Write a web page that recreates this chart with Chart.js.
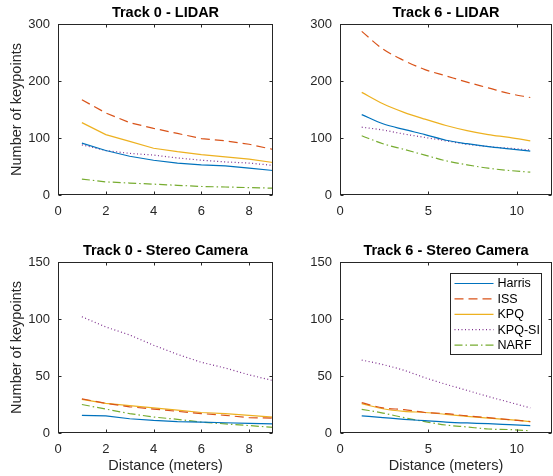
<!DOCTYPE html>
<html><head><meta charset="utf-8">
<script src="https://cdn.jsdelivr.net/npm/chart.js@4/dist/chart.umd.min.js"></script>
<style>
html,body{margin:0;padding:0;background:#fff;width:553px;height:476px;overflow:hidden}
canvas{position:absolute;display:block}
</style></head><body>
<canvas id="c1" width="276" height="238" style="left:0;top:0"></canvas>
<canvas id="c2" width="271" height="238" style="left:282px;top:0"></canvas>
<canvas id="c3" width="276" height="238" style="left:0;top:238px"></canvas>
<canvas id="c4" width="271" height="238" style="left:282px;top:238px"></canvas>
<script>
// ---- data ----
const seriesNames = ['Harris', 'ISS', 'KPQ', 'KPQ-SI', 'NARF'];
const track0Dist = [1, 2, 3, 4, 5, 6, 7, 8, 9];
const track6Dist = [1.23, 2.43, 3.62, 4.81, 6.0, 7.19, 8.39, 9.58, 10.77];

const t0LidarHarris = [91, 78, 68, 61, 56, 53, 51, 47, 43];
const t0LidarISS    = [167, 144, 127, 117, 108, 99, 95, 89, 80];
const t0LidarKPQ    = [127, 106, 94, 82, 76, 71, 67, 63, 57];
const t0LidarKPQSI  = [88, 78, 73, 70, 65, 61, 58, 56, 52];
const t0LidarNARF   = [28, 23, 21, 19, 17, 15, 14, 13, 12];

const t6LidarHarris = [141, 125, 115, 106, 96, 90, 85, 81, 77];
const t6LidarISS    = [287, 256, 236, 220, 209, 198, 188, 178, 171];
const t6LidarKPQ    = [180, 160, 145, 133, 122, 113, 106, 101, 95];
const t6LidarKPQSI  = [119, 114, 107, 101, 95, 89, 85, 82, 79];
const t6LidarNARF   = [104, 90, 80, 70, 60, 53, 47, 43, 40];

const t0CamHarris = [15.5, 15, 12.5, 11, 10, 9.5, 9, 8.5, 8];
const t0CamISS    = [30, 26, 23, 21, 19, 17, 15.5, 13.5, 13];
const t0CamKPQ    = [29.5, 26, 24, 22, 20, 18, 17, 15.5, 14];
const t0CamKPQSI  = [102, 93, 86, 77, 69, 62, 57, 51, 46];
const t0CamNARF   = [25, 21, 17, 14, 12, 9.5, 8, 6.5, 5];

const t6CamHarris = [15, 13.5, 12, 10.8, 9.6, 8.8, 8.2, 7.3, 6.4];
const t6CamISS    = [26.6, 22, 20.5, 18, 17, 15, 13.5, 11.7, 10];
const t6CamKPQ    = [25.7, 21.3, 19, 18, 16.4, 14.6, 13, 11.7, 10];
const t6CamKPQSI  = [64, 60, 55, 48.5, 42.7, 37.4, 32, 27, 22];
const t6CamNARF   = [20.8, 17.5, 13.5, 10, 7, 5.3, 3.5, 3, 2];

const lidarYTicks = [0, 100, 200, 300];
const camYTicks = [0, 50, 100, 150];
const track0XTicks = [0, 2, 4, 6, 8];
const track6XTicks = [0, 5, 10];

// ---- styles ----
const FONT = "'Liberation Sans', Arial, Helvetica, sans-serif";
const AXC = '#262626';
const styles = [
  {c: '#0072BD', dash: []},
  {c: '#D95319', dash: [9, 5]},
  {c: '#EDB120', dash: []},
  {c: '#7E2F8E', dash: [1, 2.5]},
  {c: '#77AC30', dash: [8, 3, 1.5, 3]}
];

function mkDatasets(xs, arrs, smooth) {
  return arrs.map((arr, i) => ({
    label: seriesNames[i],
    data: arr.map((v, k) => ({x: xs[k], y: v})),
    borderColor: styles[i].c,
    backgroundColor: styles[i].c,
    borderDash: styles[i].dash,
    borderWidth: 1.2,
    pointRadius: 0,
    fill: false,
    tension: 0,
    cubicInterpolationMode: smooth ? 'monotone' : 'default'
  }));
}

const boxPlugin = {
  id: 'matlabBox',
  afterDatasetsDraw(chart) {
    const {ctx, chartArea: a, scales: {x, y}} = chart;
    const L = Math.round(a.left) + 0.5, R = Math.round(a.right) - 0.5;
    const T = Math.round(a.top) + 0.5, B = Math.round(a.bottom) - 0.5;
    ctx.save();
    ctx.strokeStyle = AXC; ctx.lineWidth = 1; ctx.setLineDash([]);
    ctx.strokeRect(L, T, R - L, B - T);
    ctx.beginPath();
    const tl = 3;
    x.ticks.forEach(t => {
      const p = Math.round(x.getPixelForValue(t.value)) + 0.5;
      ctx.moveTo(p, B); ctx.lineTo(p, B - tl);
      ctx.moveTo(p, T); ctx.lineTo(p, T + tl);
    });
    y.ticks.forEach(t => {
      const p = Math.round(y.getPixelForValue(t.value)) + 0.5;
      ctx.moveTo(L, p); ctx.lineTo(L + tl, p);
      ctx.moveTo(R, p); ctx.lineTo(R - tl, p);
    });
    ctx.stroke();
    ctx.restore();
  }
};

const legendPlugin = {
  id: 'boxLegend',
  afterDraw(chart, args, opts) {
    if (!opts || !opts.show) return;
    const {ctx, chartArea: a} = chart;
    const w = 91, h = 81;
    const left = Math.round(a.right - 11 - w) + 0.5, top = Math.round(a.top + 11) + 0.5;
    ctx.save();
    ctx.fillStyle = '#fff';
    ctx.fillRect(left, top, w, h);
    ctx.strokeStyle = AXC; ctx.lineWidth = 1; ctx.setLineDash([]);
    ctx.strokeRect(left, top, w, h);
    ctx.font = '12.5px ' + FONT;
    ctx.textBaseline = 'middle';
    ctx.textAlign = 'left';
    chart.data.datasets.forEach((ds, i) => {
      const yy = top + 10 + i * 15.4;
      ctx.beginPath();
      ctx.strokeStyle = ds.borderColor;
      ctx.lineWidth = 1.2;
      ctx.setLineDash(ds.borderDash);
      ctx.moveTo(left + 4, yy); ctx.lineTo(left + 43, yy);
      ctx.stroke();
      ctx.fillStyle = '#000';
      ctx.fillText(ds.label, left + 47, yy + 0.5);
    });
    ctx.restore();
  }
};

function makeChart(id, opts) {
  const xTicksArr = opts.xTicks, yTicksArr = opts.yTicks;
  return new Chart(document.getElementById(id), {
    type: 'line',
    data: {datasets: mkDatasets(opts.xs, opts.data, opts.smooth)},
    plugins: [boxPlugin, legendPlugin],
    options: {
      responsive: false,
      animation: false,
      events: [],
      layout: {padding: {left: 0, right: opts.padRight, top: 0, bottom: 0}},
      plugins: {
        legend: {display: false},
        tooltip: {enabled: false},
        title: {
          display: true, text: opts.title, color: '#000', fullSize: false,
          font: {family: FONT, size: 14.5, weight: 'bold', lineHeight: 1.2},
          padding: {top: 4, bottom: 2.6}
        },
        boxLegend: {show: !!opts.legend}
      },
      scales: {
        x: {
          type: 'linear', min: xTicksArr[0], max: opts.xMax,
          grid: {display: false, drawTicks: false},
          border: {display: false},
          afterBuildTicks(s) { s.ticks = xTicksArr.map(v => ({value: v})); },
          afterFit(s) { s.height = 43; },
          ticks: {color: AXC, font: {family: FONT, size: 13}, padding: 9, maxRotation: 0, autoSkip: false, includeBounds: false},
          title: {display: !!opts.xTitle, text: opts.xTitle || '', color: AXC,
                  font: {family: FONT, size: 14.5, lineHeight: 1.2}, padding: {top: 0, bottom: 1}}
        },
        y: {
          type: 'linear', min: yTicksArr[0], max: yTicksArr[yTicksArr.length - 1],
          grid: {display: false, drawTicks: false},
          border: {display: false},
          afterBuildTicks(s) { s.ticks = yTicksArr.map(v => ({value: v})); },
          afterFit(s) { s.width = 58; },
          ticks: {color: AXC, font: {family: FONT, size: 13}, padding: 8, autoSkip: false},
          title: {display: !!opts.yTitle, text: opts.yTitle || '', color: AXC,
                  font: {family: FONT, size: 14.5, lineHeight: 1.2}, padding: {top: 8, bottom: 0}}
        }
      }
    }
  });
}

makeChart('c1', {title: 'Track 0 - LIDAR', xs: track0Dist, xMax: 9, xTicks: track0XTicks, yTicks: lidarYTicks,
  data: [t0LidarHarris, t0LidarISS, t0LidarKPQ, t0LidarKPQSI, t0LidarNARF], yTitle: 'Number of keypoints', padRight: 3});
makeChart('c2', {title: 'Track 6 - LIDAR', xs: track6Dist, xMax: 12, xTicks: track6XTicks, yTicks: lidarYTicks,
  data: [t6LidarHarris, t6LidarISS, t6LidarKPQ, t6LidarKPQSI, t6LidarNARF], smooth: true, padRight: 1});
makeChart('c3', {title: 'Track 0 - Stereo Camera', xs: track0Dist, xMax: 9, xTicks: track0XTicks, yTicks: camYTicks,
  data: [t0CamHarris, t0CamISS, t0CamKPQ, t0CamKPQSI, t0CamNARF], yTitle: 'Number of keypoints', xTitle: 'Distance (meters)', padRight: 3});
makeChart('c4', {title: 'Track 6 - Stereo Camera', xs: track6Dist, xMax: 12, xTicks: track6XTicks, yTicks: camYTicks,
  data: [t6CamHarris, t6CamISS, t6CamKPQ, t6CamKPQSI, t6CamNARF], smooth: true, xTitle: 'Distance (meters)', padRight: 1, legend: true});
</script>
</body></html>
